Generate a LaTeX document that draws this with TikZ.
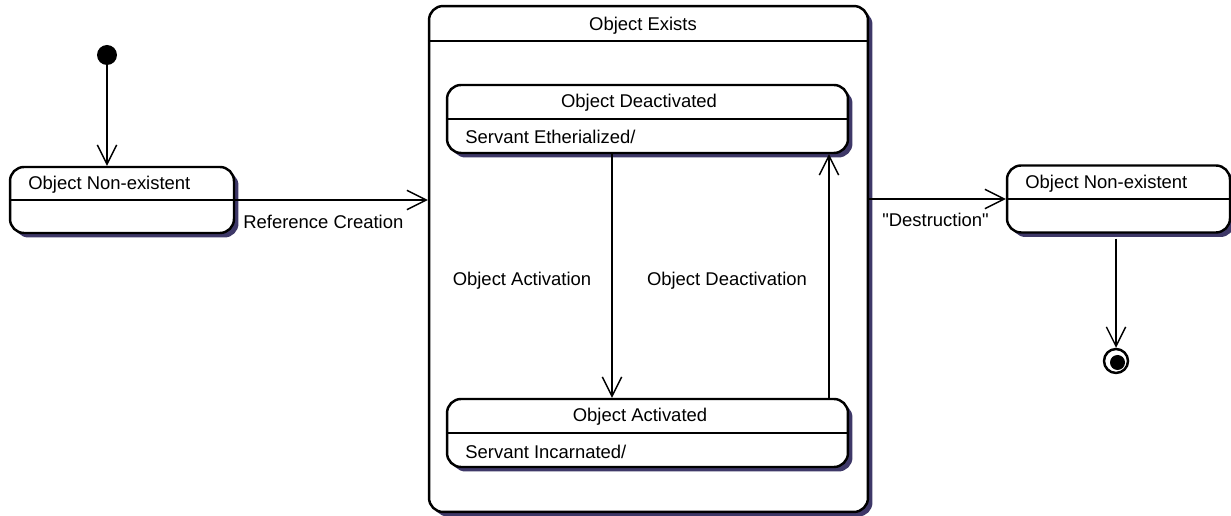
\documentclass[tikz,border=0pt]{standalone}
\usepackage{fontspec}
\setmainfont{Liberation Sans}
\newfontfamily\plainsans{Liberation Sans}
\usetikzlibrary{arrows.meta,shadows}

\definecolor{shadowc}{RGB}{62,56,104}

\tikzset{
    statebox/.style={draw, line width=1.4pt, rounded corners=0.28cm, fill=white,
        inner sep=0pt,
        drop shadow={shadow xshift=0.09cm, shadow yshift=-0.09cm, fill=shadowc, opacity=1}},
    sepline/.style={line width=0.6pt},
    trans/.style={line width=0.8pt, -{Straight Barb[length=11pt,width=11pt,line width=0.8pt]}},
    txt/.style={font=\plainsans\fontsize{10.5}{12}\selectfont, inner sep=0pt}
}

\begin{document}
\begin{tikzpicture}[x=0.02cm, y=-0.02cm]
    \useasboundingbox (0,0) rectangle (1231,516);

    % Composite state
    \node[statebox, minimum width=8.78cm, minimum height=10.12cm] (exists) at (648.5,259) {};
    \coordinate (existsSep) at (0,41);
    \draw[sepline] (exists.west |- existsSep) -- (exists.east |- existsSep);
    \node[txt] (existsTitle) at (643,26) {Object Exists};

    % Inner states
    \node[statebox, minimum width=8.02cm, minimum height=1.36cm] (deact) at (647.5,119) {};
    \draw[sepline] (deact.west) -- (deact.east);
    \node[txt] (deactTitle) at (639,103) {Object Deactivated};
    \node[txt, anchor=west] (deactDo) at (465,137) {Servant Etherialized/};

    \node[statebox, minimum width=8.02cm, minimum height=1.36cm] (act) at (647.5,433) {};
    \draw[sepline] (act.west) -- (act.east);
    \node[txt] (actTitle) at (640,417) {Object Activated};
    \node[txt, anchor=west] (actDo) at (465,452) {Servant Incarnated/};

    % Outer states
    \node[statebox, minimum width=4.48cm, minimum height=1.32cm] (nonexLeft) at (122,200) {};
    \draw[sepline] (nonexLeft.west) -- (nonexLeft.east);
    \node[txt, anchor=west] (nonexLeftTitle) at (28,185) {Object Non-existent};

    \node[statebox, minimum width=4.46cm, minimum height=1.34cm] (nonexRight) at (1118.5,199) {};
    \draw[sepline] (nonexRight.west) -- (nonexRight.east);
    \node[txt, anchor=west] (nonexRightTitle) at (1025,184) {Object Non-existent};

    % Initial and final states
    \node[circle, fill=black, minimum size=0.4cm, inner sep=0pt] (init) at (107,55) {};
    \node[circle, draw, line width=1.4pt, minimum size=0.48cm, inner sep=0pt] (final) at (1116,361) {};
    \node[circle, fill=black, minimum size=0.3cm, inner sep=0pt] (finalDot) at (1117.5,362.5) {};

    % Transitions
    \draw[trans] (init) -- (init |- nonexLeft.north);
    \draw[trans] (nonexLeft.east) -- (nonexLeft.east -| exists.west);
    \node[txt, anchor=west] (refLabel) at (243,222) {Reference Creation};

    \coordinate (actX) at (612,0);
    \coordinate (deactX) at (829,0);
    \draw[trans] (actX |- deact.south) -- (actX |- act.north);
    \node[txt] (actLabel) at (522,281) {Object Activation};
    \draw[trans] (deactX |- act.north) -- (deactX |- deact.south);
    \node[txt] (deactLabel) at (727,281) {Object Deactivation};

    \draw[trans] (exists.east |- nonexRight.west) -- (nonexRight.west);
    \node[txt, anchor=west] (destLabel) at (882,220) {"Destruction"};

    \draw[trans, shorten <=0.1cm] (final |- nonexRight.south) -- (final.north);
\end{tikzpicture}
\end{document}
